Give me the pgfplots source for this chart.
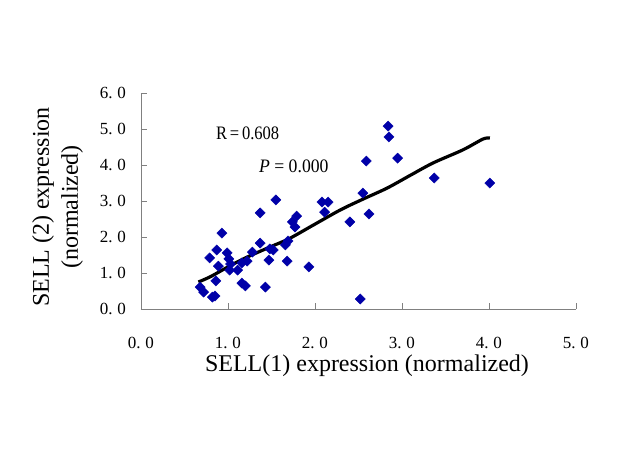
\documentclass[border=0pt]{standalone}
\usepackage{graphicx}
\usepackage{fontspec}
\setmainfont{Liberation Serif}
\usepackage{pgfplots}
\pgfplotsset{compat=1.18}
\definecolor{ptblue}{RGB}{0,0,168}
\definecolor{axgray}{RGB}{128,128,128}
\newcommand{\tl}[2]{#1.\hspace{0.28em}#2}
\begin{document}
\begin{tikzpicture}
\useasboundingbox (-141bp,-159bp) rectangle (483bp,309bp);
\begin{axis}[
  at={(0,0)}, anchor=south west,
  scale only axis, width=435bp, height=216bp,
  xmin=0, xmax=5, ymin=0, ymax=6,
  axis x line*=bottom, axis y line*=left,
  axis line style={axgray, line width=0.8bp, -},
  tick style={axgray, line width=0.8bp},
  tick align=inside, major tick length=6bp,
  xtick={0,1,2,3,4,5}, ytick={0,1,2,3,4,5,6},
  xticklabels={\tl00,\tl10,\tl20,\tl30,\tl40,\tl50},
  yticklabels={\tl00,\tl10,\tl20,\tl30,\tl40,\tl50,\tl60},
  xticklabel style={font=\fontsize{17bp}{20bp}\selectfont, anchor=north, inner sep=0pt, yshift=-28bp},
  yticklabel style={font=\fontsize{17bp}{20bp}\selectfont, anchor=east, inner sep=0pt, xshift=-15bp},
  xlabel={SELL(1) expression (normalized)},
  xlabel style={font=\fontsize{24bp}{28bp}\selectfont, at={([xshift=8.5bp,yshift=-62bp]axis description cs:0.5,0)}, anchor=base, inner sep=0pt},
  ylabel={SELL (2) expression\\(normalized)},
  ylabel style={font=\fontsize{24bp}{29bp}\selectfont, align=center, at={([xshift=-83.5bp,yshift=-6bp]axis description cs:0,0.5)}, anchor=center, inner sep=0pt},
  clip=false,
]
\addplot[only marks, mark=square*, mark size=3.6bp, mark options={rotate=45, fill=ptblue, draw=ptblue}] table {
x y
2.84 5.08
2.85 4.78
2.59 4.11
2.95 4.19
3.37 3.64
4.01 3.50
2.55 3.22
2.62 2.64
2.40 2.42
2.52 0.28
1.55 3.03
1.37 2.67
2.08 2.97
2.15 2.97
2.11 2.69
1.79 2.58
1.74 2.42
1.77 2.28
1.37 1.83
1.52 1.64
1.48 1.67
1.69 1.89
1.66 1.78
1.47 1.36
1.68 1.33
1.93 1.17
1.43 0.61
0.93 2.11
0.87 1.64
0.79 1.42
0.99 1.56
1.01 1.39
1.03 1.25
0.89 1.19
1.28 1.58
1.22 1.33
1.16 1.28
1.11 1.08
1.02 1.08
0.86 0.78
0.68 0.61
0.72 0.47
0.82 0.33
0.85 0.36
1.16 0.72
1.20 0.64
};
\addplot[black, line width=3.2bp, smooth] table {
x y
0.66 0.75
0.80 0.90
1.00 1.17
1.20 1.42
1.48 1.72
1.70 1.95
1.98 2.33
2.29 2.75
2.55 3.05
2.83 3.36
3.10 3.72
3.36 4.06
3.70 4.42
3.93 4.72
4.01 4.75
};
\node[anchor=base west, inner sep=0pt, font=\fontsize{19bp}{22bp}\selectfont] at (axis cs:0.862,4.72) {\scalebox{0.87}[1]{R\,=\,0.608}};
\node[anchor=base west, inner sep=0pt, font=\fontsize{19bp}{22bp}\selectfont] at (axis cs:1.356,3.78) {\scalebox{0.93}[1]{\textit{P} = 0.000}};
\end{axis}
\end{tikzpicture}
\end{document}
